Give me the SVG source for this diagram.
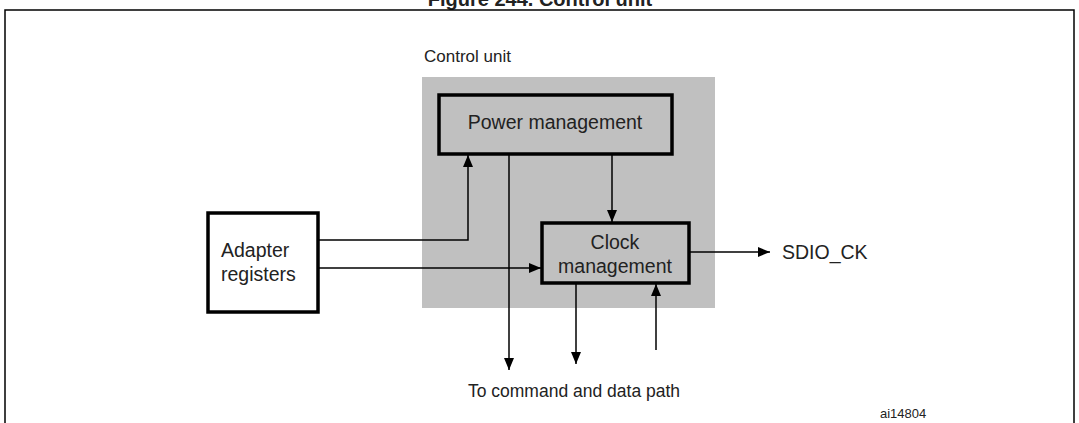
<svg xmlns="http://www.w3.org/2000/svg" width="1079" height="423" viewBox="0 0 1079 423">
<defs><marker id="a" markerWidth="12" markerHeight="10" refX="12" refY="5" orient="auto" markerUnits="userSpaceOnUse"><path d="M0,0L12,5L0,10z" fill="#000"/></marker></defs>
<style>text{font-family:"Liberation Sans",Arial,sans-serif;font-size:17px;fill:#222}.big{font-size:19.5px}.b{fill:#c0c0c0;stroke:#000;stroke-width:3.5}.l{fill:none;stroke:#000;stroke-width:1.5;marker-end:url(#a)}</style>
<rect width="1079" height="423" fill="#fff"/>
<text x="540" y="6" text-anchor="middle" style="font-weight:bold;font-size:20px">Figure 244. Control unit</text>
<rect x="5" y="10" width="1069" height="430" fill="none" stroke="#000" stroke-width="1.5"/>
<text x="424" y="62">Control unit</text>
<rect x="422" y="77" width="293" height="231" fill="#c0c0c0"/>
<g id="power"><rect class="b" x="439" y="95" width="233" height="59"/><text class="big" x="555" y="129" text-anchor="middle">Power management</text></g>
<g id="clock"><rect class="b" x="542" y="223" width="147" height="60"/><text class="big" x="615" y="249" text-anchor="middle">Clock</text><text class="big" x="615" y="273" text-anchor="middle">management</text></g>
<g id="adapter"><rect x="208" y="213" width="110" height="99" fill="#fff" stroke="#000" stroke-width="3.5"/><text class="big" x="221" y="257">Adapter</text><text class="big" x="221" y="281">registers</text></g>
<g id="connectors">
<path class="l" d="M318,240H468V155"/>
<path class="l" d="M318,268H541"/>
<path class="l" d="M509,154V370"/>
<path class="l" d="M612,154V222"/>
<path class="l" d="M576,283V364"/>
<path class="l" d="M656,350V284"/>
<path class="l" d="M689,252H770"/>
</g>
<text class="big" x="782" y="259">SDIO_CK</text>
<text x="574" y="397" text-anchor="middle" style="font-size:17.5px">To command and data path</text>
<text x="880" y="418" style="font-size:13px">ai14804</text>
</svg>
